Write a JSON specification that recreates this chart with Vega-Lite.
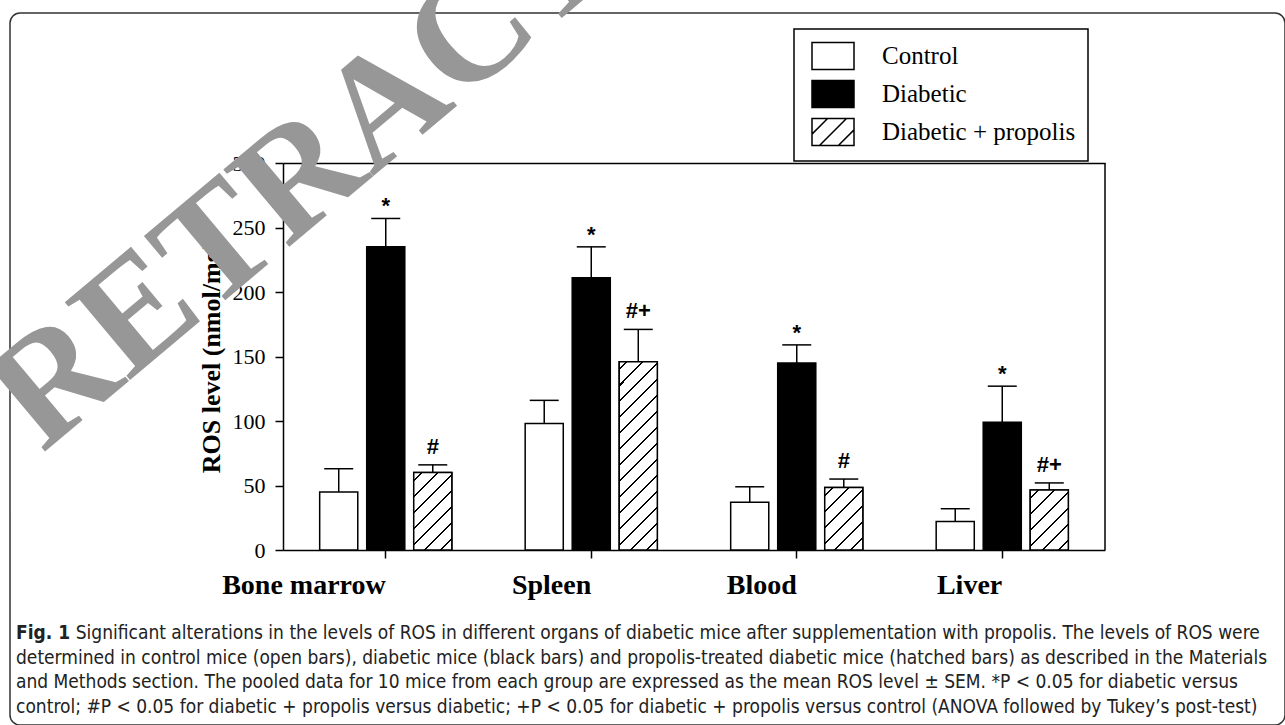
{
  "$schema": "https://vega.github.io/schema/vega-lite/v6.json",
  "width": 1275,
  "height": 712,
  "autosize": {"type": "none"},
  "padding": {"left": 10, "top": 13, "right": 0, "bottom": 0},
  "background": "white",
  "data": {
    "values": [
      {"organ": "Bone marrow", "group": "Control", "value": 45, "upper": 63, "sig": ""},
      {"organ": "Bone marrow", "group": "Diabetic", "value": 235, "upper": 257, "sig": "*"},
      {"organ": "Bone marrow", "group": "Diabetic + propolis", "value": 60, "upper": 66, "sig": "#"},
      {"organ": "Spleen", "group": "Control", "value": 98, "upper": 116, "sig": ""},
      {"organ": "Spleen", "group": "Diabetic", "value": 211, "upper": 235, "sig": "*"},
      {"organ": "Spleen", "group": "Diabetic + propolis", "value": 146, "upper": 171, "sig": "#+"},
      {"organ": "Blood", "group": "Control", "value": 37, "upper": 49, "sig": ""},
      {"organ": "Blood", "group": "Diabetic", "value": 145, "upper": 159, "sig": "*"},
      {"organ": "Blood", "group": "Diabetic + propolis", "value": 48.5, "upper": 55, "sig": "#"},
      {"organ": "Liver", "group": "Control", "value": 22, "upper": 32, "sig": ""},
      {"organ": "Liver", "group": "Diabetic", "value": 99, "upper": 127, "sig": "*"},
      {"organ": "Liver", "group": "Diabetic + propolis", "value": 46.5, "upper": 52, "sig": "#+"}
    ]
  },
  "title": {
    "text": "Fig. 1",
    "subtitle": [
      "\u200b\u00a0\u00a0\u00a0\u00a0\u00a0\u00a0\u00a0\u00a0\u00a0\u00a0\u00a0Significant alterations in the levels of ROS in different organs of diabetic mice after supplementation with propolis. The levels of ROS were",
      "determined in control mice (open bars), diabetic mice (black bars) and propolis-treated diabetic mice (hatched bars) as described in the Materials",
      "and Methods section. The pooled data for 10 mice from each group are expressed as the mean ROS level ± SEM. *P < 0.05 for diabetic versus",
      "control; #P < 0.05 for diabetic + propolis versus diabetic; +P < 0.05 for diabetic + propolis versus control (ANOVA followed by Tukey’s post-test)"
    ],
    "orient": "bottom",
    "anchor": "start",
    "frame": "group",
    "offset": -101,
    "dx": 6,
    "font": "DejaVu Sans Condensed, sans-serif",
    "fontSize": 19,
    "fontWeight": "bold",
    "color": "#222222",
    "subtitleFont": "DejaVu Sans Condensed, sans-serif",
    "subtitleFontSize": 19,
    "subtitleColor": "#222222",
    "subtitleLineHeight": 24.5,
    "subtitlePadding": -19
  },
  "layer": [
    {
      "mark": {"type": "rule", "color": "black", "strokeWidth": 1.5},
      "encoding": {
        "x": {"field": "organ", "type": "nominal", "title": null},
        "xOffset": {"field": "group", "type": "nominal"},
        "y": {"field": "value", "type": "quantitative", "title": "ROS level (nmol/mg)"},
        "y2": {"field": "upper"}
      }
    },
    {
      "mark": {"type": "bar", "stroke": "black", "strokeWidth": 1.5},
      "encoding": {
        "x": {
          "field": "organ", "type": "nominal", "title": null,
          "scale": {"type": "band", "domain": ["Bone marrow", "Spleen", "Blood", "Liver"], "range": [273, 1095], "paddingInner": 0, "paddingOuter": 0},
          "axis": {"offset": -175, "labelAngle": 0, "labelFont": "Liberation Serif", "labelFontSize": 28, "labelFontWeight": "bold", "labelColor": "black", "labelPadding": 27, "tickSize": 8, "tickColor": "black", "tickWidth": 1.5, "domainColor": "black", "domainWidth": 1.5, "grid": false}
        },
        "xOffset": {"field": "group", "type": "nominal", "scale": {"domain": ["Control", "Diabetic", "Diabetic + propolis"], "paddingInner": 0.19, "paddingOuter": 0.78}},
        "y": {
          "field": "value", "type": "quantitative", "title": "ROS level (nmol/mg)",
          "scale": {"domain": [0, 300], "range": [537, 150], "nice": false},
          "axis": {"offset": -273, "values": [0, 50, 100, 150, 200, 250, 300], "labelFont": "Liberation Serif", "labelFontSize": 22, "labelColor": "black", "labelPadding": 10, "tickSize": 8, "tickColor": "black", "tickWidth": 1.5, "domainColor": "black", "domainWidth": 1.5, "titleFont": "Liberation Serif", "titleFontSize": 26, "titleFontWeight": "bold", "titleColor": "black", "titlePadding": 8, "grid": true, "gridColor": "black", "gridWidth": 1.5, "gridOpacity": {"condition": {"test": "datum.value === 300", "value": 1}, "value": 0}}
        },
        "fill": {"condition": {"test": "datum.group === 'Diabetic'", "value": "black"}, "value": "white"}
      }
    },
    {
      "transform": [{"filter": "datum.organ === 'Bone marrow' && datum.group === 'Diabetic + propolis'"}],
      "mark": {"type": "bar", "stroke": "black", "strokeWidth": 1.5, "fill": {"gradient": "linear", "x1": 0, "y1": 0, "x2": 0.5913, "y2": 1.2012, "stops": [
        {"offset": 0, "color": "white"},
        {"offset": 0.0597, "color": "white"}, {"offset": 0.0597, "color": "black"}, {"offset": 0.0788, "color": "black"}, {"offset": 0.0788, "color": "white"},
        {"offset": 0.1983, "color": "white"}, {"offset": 0.1983, "color": "black"}, {"offset": 0.2173, "color": "black"}, {"offset": 0.2173, "color": "white"},
        {"offset": 0.3368, "color": "white"}, {"offset": 0.3368, "color": "black"}, {"offset": 0.3558, "color": "black"}, {"offset": 0.3558, "color": "white"},
        {"offset": 0.4753, "color": "white"}, {"offset": 0.4753, "color": "black"}, {"offset": 0.4944, "color": "black"}, {"offset": 0.4944, "color": "white"},
        {"offset": 0.6139, "color": "white"}, {"offset": 0.6139, "color": "black"}, {"offset": 0.6329, "color": "black"}, {"offset": 0.6329, "color": "white"},
        {"offset": 0.7524, "color": "white"}, {"offset": 0.7524, "color": "black"}, {"offset": 0.7714, "color": "black"}, {"offset": 0.7714, "color": "white"},
        {"offset": 0.8909, "color": "white"}, {"offset": 0.8909, "color": "black"}, {"offset": 0.9100, "color": "black"}, {"offset": 0.9100, "color": "white"},
        {"offset": 1, "color": "white"}]}},
      "encoding": {
        "x": {"field": "organ", "type": "nominal", "title": null},
        "xOffset": {"field": "group", "type": "nominal"},
        "y": {"field": "value", "type": "quantitative", "title": "ROS level (nmol/mg)"}
      }
    },
    {
      "transform": [{"filter": "datum.organ === 'Spleen' && datum.group === 'Diabetic + propolis'"}],
      "mark": {"type": "bar", "stroke": "black", "strokeWidth": 1.5, "fill": {"gradient": "linear", "x1": 0, "y1": 0, "x2": 0.2337, "y2": 1.1550, "stops": [
        {"offset": 0, "color": "white"},
        {"offset": 0.0305, "color": "white"}, {"offset": 0.0305, "color": "black"}, {"offset": 0.0402, "color": "black"}, {"offset": 0.0402, "color": "white"},
        {"offset": 0.1011, "color": "white"}, {"offset": 0.1011, "color": "black"}, {"offset": 0.1109, "color": "black"}, {"offset": 0.1109, "color": "white"},
        {"offset": 0.1718, "color": "white"}, {"offset": 0.1718, "color": "black"}, {"offset": 0.1815, "color": "black"}, {"offset": 0.1815, "color": "white"},
        {"offset": 0.2425, "color": "white"}, {"offset": 0.2425, "color": "black"}, {"offset": 0.2522, "color": "black"}, {"offset": 0.2522, "color": "white"},
        {"offset": 0.3131, "color": "white"}, {"offset": 0.3131, "color": "black"}, {"offset": 0.3228, "color": "black"}, {"offset": 0.3228, "color": "white"},
        {"offset": 0.3838, "color": "white"}, {"offset": 0.3838, "color": "black"}, {"offset": 0.3935, "color": "black"}, {"offset": 0.3935, "color": "white"},
        {"offset": 0.4544, "color": "white"}, {"offset": 0.4544, "color": "black"}, {"offset": 0.4641, "color": "black"}, {"offset": 0.4641, "color": "white"},
        {"offset": 0.5251, "color": "white"}, {"offset": 0.5251, "color": "black"}, {"offset": 0.5348, "color": "black"}, {"offset": 0.5348, "color": "white"},
        {"offset": 0.5958, "color": "white"}, {"offset": 0.5958, "color": "black"}, {"offset": 0.6055, "color": "black"}, {"offset": 0.6055, "color": "white"},
        {"offset": 0.6664, "color": "white"}, {"offset": 0.6664, "color": "black"}, {"offset": 0.6761, "color": "black"}, {"offset": 0.6761, "color": "white"},
        {"offset": 0.7371, "color": "white"}, {"offset": 0.7371, "color": "black"}, {"offset": 0.7468, "color": "black"}, {"offset": 0.7468, "color": "white"},
        {"offset": 0.8077, "color": "white"}, {"offset": 0.8077, "color": "black"}, {"offset": 0.8174, "color": "black"}, {"offset": 0.8174, "color": "white"},
        {"offset": 0.8784, "color": "white"}, {"offset": 0.8784, "color": "black"}, {"offset": 0.8881, "color": "black"}, {"offset": 0.8881, "color": "white"},
        {"offset": 0.9490, "color": "white"}, {"offset": 0.9490, "color": "black"}, {"offset": 0.9588, "color": "black"}, {"offset": 0.9588, "color": "white"},
        {"offset": 1, "color": "white"}]}},
      "encoding": {
        "x": {"field": "organ", "type": "nominal", "title": null},
        "xOffset": {"field": "group", "type": "nominal"},
        "y": {"field": "value", "type": "quantitative", "title": "ROS level (nmol/mg)"}
      }
    },
    {
      "transform": [{"filter": "datum.organ === 'Blood' && datum.group === 'Diabetic + propolis'"}],
      "mark": {"type": "bar", "stroke": "black", "strokeWidth": 1.5, "fill": {"gradient": "linear", "x1": 0, "y1": 0, "x2": 0.7147, "y2": 1.1737, "stops": [
        {"offset": 0, "color": "white"},
        {"offset": 0.0685, "color": "white"}, {"offset": 0.0685, "color": "black"}, {"offset": 0.0904, "color": "black"}, {"offset": 0.0904, "color": "white"},
        {"offset": 0.2275, "color": "white"}, {"offset": 0.2275, "color": "black"}, {"offset": 0.2493, "color": "black"}, {"offset": 0.2493, "color": "white"},
        {"offset": 0.3864, "color": "white"}, {"offset": 0.3864, "color": "black"}, {"offset": 0.4083, "color": "black"}, {"offset": 0.4083, "color": "white"},
        {"offset": 0.5454, "color": "white"}, {"offset": 0.5454, "color": "black"}, {"offset": 0.5672, "color": "black"}, {"offset": 0.5672, "color": "white"},
        {"offset": 0.7043, "color": "white"}, {"offset": 0.7043, "color": "black"}, {"offset": 0.7261, "color": "black"}, {"offset": 0.7261, "color": "white"},
        {"offset": 0.8632, "color": "white"}, {"offset": 0.8632, "color": "black"}, {"offset": 0.8851, "color": "black"}, {"offset": 0.8851, "color": "white"},
        {"offset": 1, "color": "white"}]}},
      "encoding": {
        "x": {"field": "organ", "type": "nominal", "title": null},
        "xOffset": {"field": "group", "type": "nominal"},
        "y": {"field": "value", "type": "quantitative", "title": "ROS level (nmol/mg)"}
      }
    },
    {
      "transform": [{"filter": "datum.organ === 'Liver' && datum.group === 'Diabetic + propolis'"}],
      "mark": {"type": "bar", "stroke": "black", "strokeWidth": 1.5, "fill": {"gradient": "linear", "x1": 0, "y1": 0, "x2": 0.7400, "y2": 1.1651, "stops": [
        {"offset": 0, "color": "white"},
        {"offset": 0.0703, "color": "white"}, {"offset": 0.0703, "color": "black"}, {"offset": 0.0928, "color": "black"}, {"offset": 0.0928, "color": "white"},
        {"offset": 0.2335, "color": "white"}, {"offset": 0.2335, "color": "black"}, {"offset": 0.2559, "color": "black"}, {"offset": 0.2559, "color": "white"},
        {"offset": 0.3966, "color": "white"}, {"offset": 0.3966, "color": "black"}, {"offset": 0.4190, "color": "black"}, {"offset": 0.4190, "color": "white"},
        {"offset": 0.5597, "color": "white"}, {"offset": 0.5597, "color": "black"}, {"offset": 0.5821, "color": "black"}, {"offset": 0.5821, "color": "white"},
        {"offset": 0.7228, "color": "white"}, {"offset": 0.7228, "color": "black"}, {"offset": 0.7452, "color": "black"}, {"offset": 0.7452, "color": "white"},
        {"offset": 0.8859, "color": "white"}, {"offset": 0.8859, "color": "black"}, {"offset": 0.9084, "color": "black"}, {"offset": 0.9084, "color": "white"},
        {"offset": 1, "color": "white"}]}},
      "encoding": {
        "x": {"field": "organ", "type": "nominal", "title": null},
        "xOffset": {"field": "group", "type": "nominal"},
        "y": {"field": "value", "type": "quantitative", "title": "ROS level (nmol/mg)"}
      }
    },
    {
      "mark": {"type": "tick", "orient": "horizontal", "size": 29, "thickness": 1.5, "color": "black", "opacity": 1},
      "encoding": {
        "x": {"field": "organ", "type": "nominal", "title": null},
        "xOffset": {"field": "group", "type": "nominal"},
        "y": {"field": "upper", "type": "quantitative", "title": "ROS level (nmol/mg)"}
      }
    },
    {
      "transform": [{"filter": "datum.group === 'Diabetic'"}],
      "mark": {"type": "text", "font": "Liberation Sans", "fontSize": 22, "fontWeight": "bold", "color": "black", "baseline": "alphabetic", "dy": -5},
      "encoding": {
        "x": {"field": "organ", "type": "nominal", "title": null},
        "xOffset": {"field": "group", "type": "nominal"},
        "y": {"field": "upper", "type": "quantitative", "title": "ROS level (nmol/mg)"},
        "text": {"field": "sig"}
      }
    },
    {
      "transform": [{"filter": "datum.group === 'Diabetic + propolis'"}],
      "mark": {"type": "text", "font": "Liberation Sans", "fontSize": 22, "fontWeight": "bold", "color": "black", "baseline": "alphabetic", "dy": -11},
      "encoding": {
        "x": {"field": "organ", "type": "nominal", "title": null},
        "xOffset": {"field": "group", "type": "nominal"},
        "y": {"field": "upper", "type": "quantitative", "title": "ROS level (nmol/mg)"},
        "text": {"field": "sig"}
      }
    },
    {
      "transform": [{"filter": "datum.organ === 'Liver' && datum.group === 'Control'"}],
      "mark": {"type": "rule", "color": "black", "strokeWidth": 1.5},
      "encoding": {
        "x": {"datum": "Liver", "bandPosition": 1, "title": null},
        "y": {"datum": 0, "title": "ROS level (nmol/mg)"},
        "y2": {"datum": 300}
      }
    },
    {
      "transform": [{"filter": "false"}],
      "mark": {"type": "point", "filled": true, "opacity": 1, "strokeWidth": 1.5},
      "encoding": {
        "fill": {
          "field": "group", "type": "nominal",
          "scale": {"domain": ["Control", "Diabetic", "Diabetic + propolis"], "range": ["white", "black", "white"]},
          "legend": {"title": null, "orient": "none", "legendX": 784, "legendY": 16, "padding": 12, "symbolOffset": 12, "strokeColor": "black", "fillColor": "white", "labelFont": "Liberation Serif", "labelFontSize": 25, "labelColor": "black", "labelOffset": 34, "labelLimit": 400, "rowPadding": 4, "symbolSize": 784, "symbolStrokeWidth": 1.5, "symbolStrokeColor": "black"}
        },
        "stroke": {
          "field": "group", "type": "nominal",
          "scale": {"domain": ["Control", "Diabetic", "Diabetic + propolis"], "range": ["black", "black", "black"]},
          "legend": {"title": null, "orient": "none", "legendX": 784, "legendY": 16, "padding": 12, "symbolOffset": 12, "strokeColor": "black", "fillColor": "white", "labelFont": "Liberation Serif", "labelFontSize": 25, "labelColor": "black", "labelOffset": 34, "labelLimit": 400, "rowPadding": 4, "symbolSize": 784, "symbolStrokeWidth": 1.5, "symbolStrokeColor": "black"}
        },
        "shape": {
          "field": "group", "type": "nominal",
          "scale": {"domain": ["Control", "Diabetic", "Diabetic + propolis"], "range": ["M-1.5,-0.964H1.5V0.964H-1.5Z", "M-1.5,-0.964H1.5V0.964H-1.5Z", "M-1.5,-0.964H1.5V0.964H-1.5Z M-1.5,0.15L-0.386,-0.964 M-0.964,0.964L0.964,-0.964 M0.386,0.964L1.5,-0.15"]},
          "legend": {"title": null, "orient": "none", "legendX": 784, "legendY": 16, "padding": 12, "symbolOffset": 12, "strokeColor": "black", "fillColor": "white", "labelFont": "Liberation Serif", "labelFontSize": 25, "labelColor": "black", "labelOffset": 34, "labelLimit": 400, "rowPadding": 4, "symbolSize": 784, "symbolStrokeWidth": 1.5, "symbolStrokeColor": "black"}
        }
      }
    },
    {
      "transform": [{"filter": "datum.organ === 'Liver' && datum.group === 'Control'"}],
      "mark": {"type": "text", "text": "RETRACTED", "angle": -40, "font": "Liberation Serif", "fontSize": 155, "fontWeight": "bold", "color": "#979797", "align": "center", "baseline": "middle"},
      "encoding": {
        "x": {"datum": "Bone marrow", "bandPosition": 0.496, "title": null},
        "y": {"datum": 345, "title": "ROS level (nmol/mg)"}
      }
    }
  ],
  "config": {
    "view": {"stroke": "#333333", "strokeWidth": 1.5, "cornerRadius": 10},
    "legend": {"strokeWidth": 1.5}
  }
}
